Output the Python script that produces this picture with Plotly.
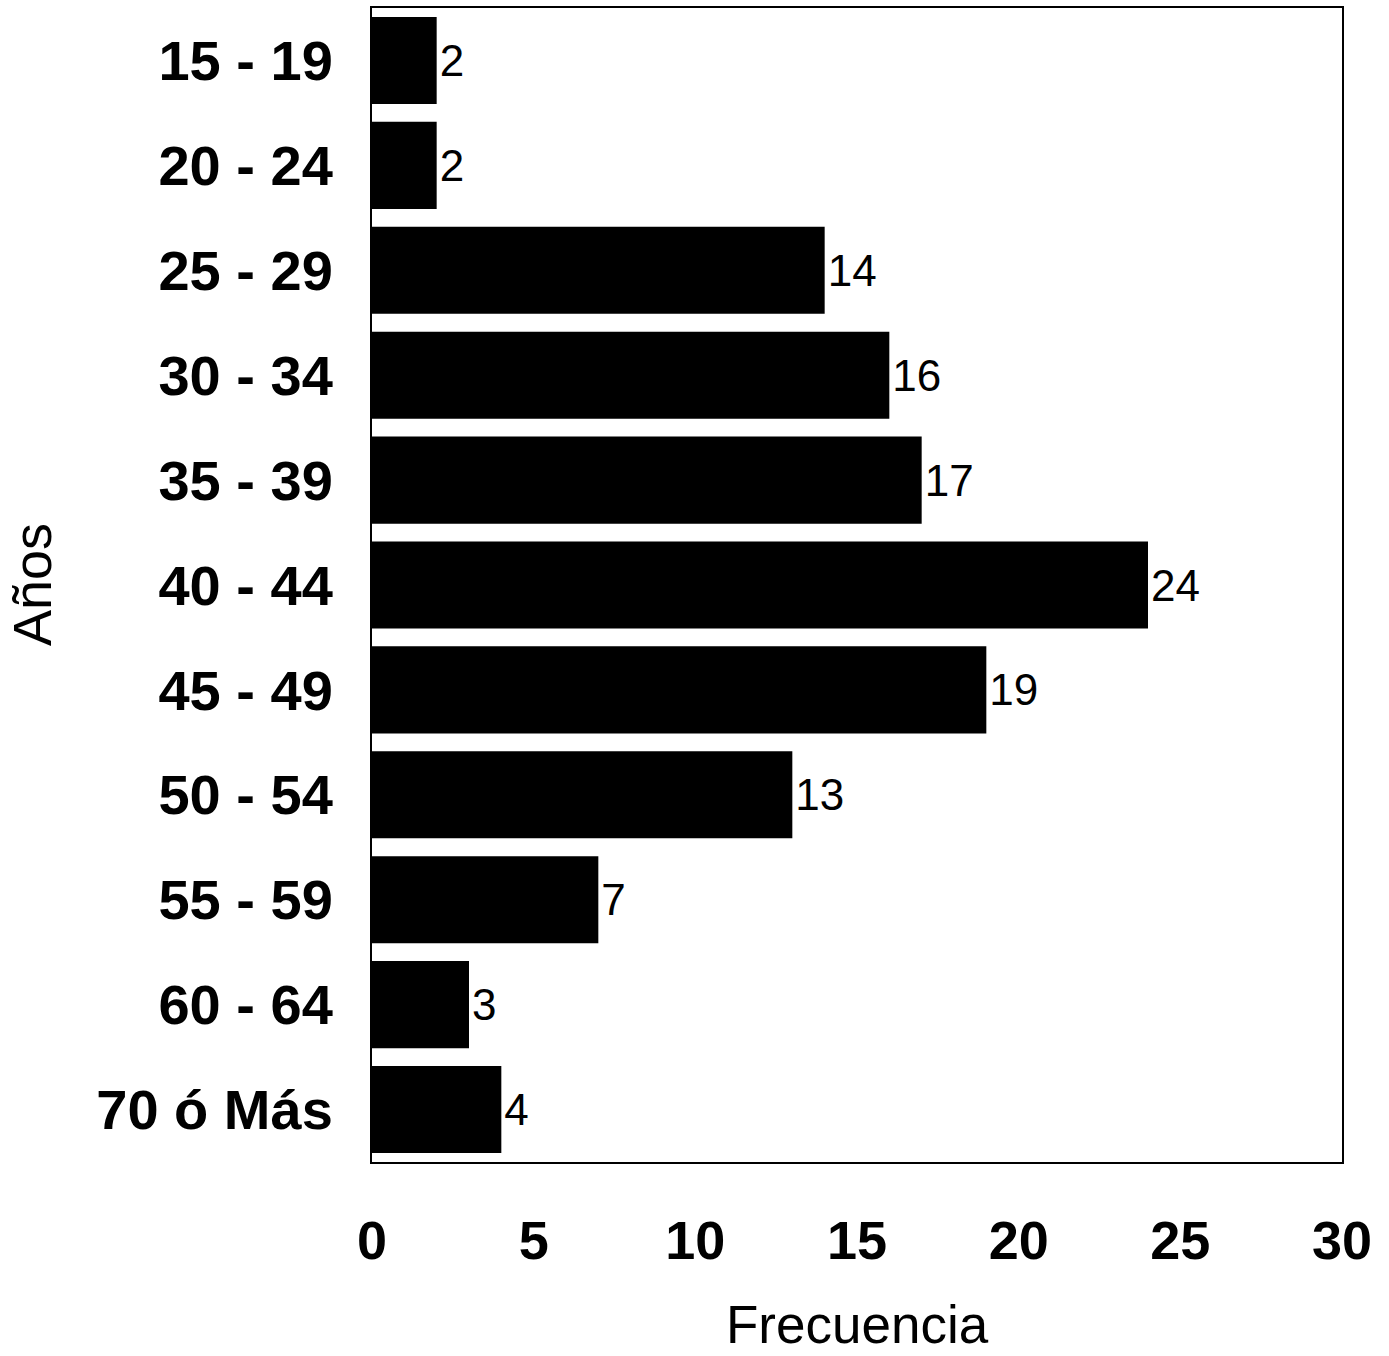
import plotly.graph_objects as go

# Age groups (years) and how many people fall in each
grupos_edad = ["15 - 19", "20 - 24", "25 - 29", "30 - 34", "35 - 39", "40 - 44",
               "45 - 49", "50 - 54", "55 - 59", "60 - 64", "70 ó Más"]
frecuencia = [2, 2, 14, 16, 17, 24, 19, 13, 7, 3, 4]
x_ticks = [0, 5, 10, 15, 20, 25, 30]

FONT = "Liberation Sans, Arial, Helvetica, sans-serif"

fig = go.Figure(
    go.Bar(
        x=frecuencia,
        y=grupos_edad,
        orientation="h",
        marker=dict(color="black", line=dict(width=0)),
        text=[str(v) for v in frecuencia],
        textposition="outside",
        cliponaxis=False,
        textfont=dict(family=FONT, size=44, color="black"),
    )
)

fig.update_layout(
    width=1389,
    height=1356,
    margin=dict(l=372, r=47, t=6, b=194),
    paper_bgcolor="white",
    plot_bgcolor="white",
    showlegend=False,
    bargap=0.17,
    font=dict(family=FONT, color="black"),
    xaxis=dict(
        range=[0, 30],
        tickvals=x_ticks,
        ticktext=[str(t) for t in x_ticks],
        tickfont=dict(family=FONT, size=54, color="black", weight="bold"),
        showgrid=False,
        zeroline=False,
        showline=True,
        linecolor="black",
        linewidth=2,
        mirror=True,
        ticks="",
        ticklabelstandoff=30,
    ),
    yaxis=dict(
        categoryorder="array",
        categoryarray=grupos_edad,
        autorange="reversed",
        tickfont=dict(family=FONT, size=56, color="black", weight="bold"),
        showgrid=False,
        zeroline=False,
        showline=True,
        linecolor="black",
        linewidth=2,
        mirror=True,
        ticks="",
        ticklabelstandoff=26,
    ),
    annotations=[
        dict(text="Frecuencia", xref="paper", yref="paper", x=0.5, y=0,
             yshift=-162, xanchor="center", yanchor="middle", showarrow=False,
             font=dict(family=FONT, size=53, color="black")),
        dict(text="Años", xref="paper", yref="paper", x=0, y=0.5,
             xshift=-340, xanchor="center", yanchor="middle", showarrow=False,
             textangle=-90, font=dict(family=FONT, size=54, color="black")),
    ],
)

fig.write_html("out.html")
